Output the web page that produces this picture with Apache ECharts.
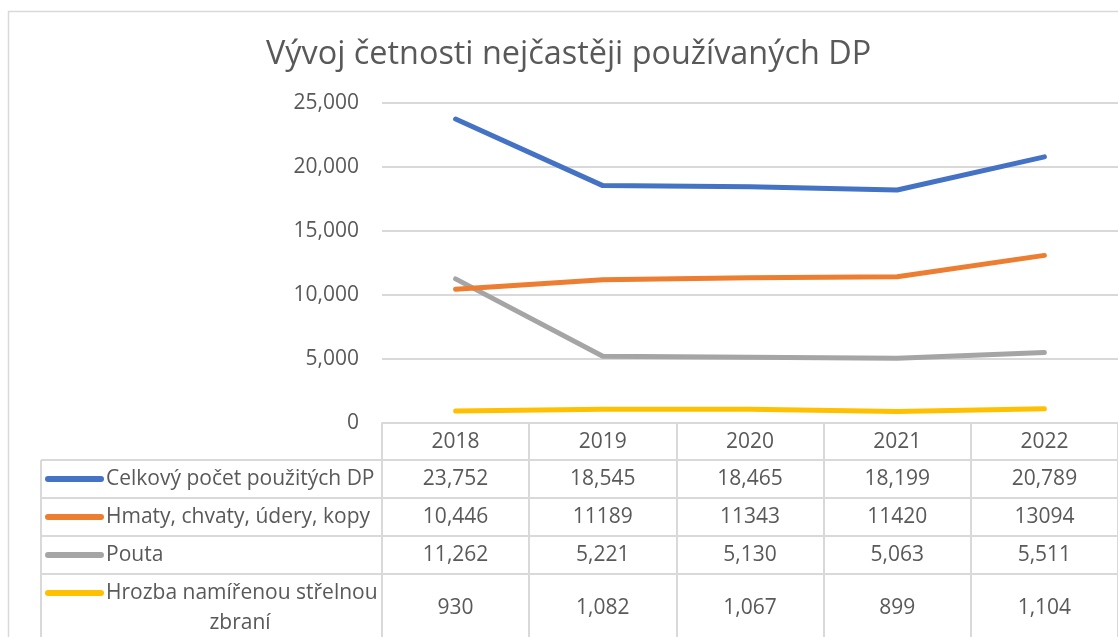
<!DOCTYPE html>
<html><head><meta charset="utf-8">
<script src="https://cdn.jsdelivr.net/npm/echarts@6/dist/echarts.min.js"></script>
<style>html,body{margin:0;padding:0;background:#fff}#c{width:1118px;height:637px}</style>
</head><body><div id="c"></div>
<script>
const titleText = 'Vývoj četnosti nejčastěji používaných DP';
const categories = ['2018', '2019', '2020', '2021', '2022'];
const seriesNames = ['Celkový počet použitých DP', 'Hmaty, chvaty, údery, kopy', 'Pouta', 'Hrozba namířenou střelnou zbraní'];
const celkovy = [23752, 18545, 18465, 18199, 20789];
const hmaty = [10446, 11189, 11343, 11420, 13094];
const pouta = [11262, 5221, 5130, 5063, 5511];
const hrozba = [930, 1082, 1067, 899, 1104];
// text as shown in the data table
const celkovyLabels = ['23,752', '18,545', '18,465', '18,199', '20,789'];
const hmatyLabels = ['10,446', '11189', '11343', '11420', '13094'];
const poutaLabels = ['11,262', '5,221', '5,130', '5,063', '5,511'];
const hrozbaLabels = ['930', '1,082', '1,067', '899', '1,104'];
const yTicks = [0, 5000, 10000, 15000, 20000, 25000];

const colors = ['#4472C4', '#ED7D31', '#A5A5A5', '#FFC000'];
const FONT = 'Open Sans';
const TXT = '#595959';
const GRID = '#D9D9D9';

const chart = echarts.init(document.getElementById('c'), null, {renderer: 'canvas'});
const values = [celkovy, hmaty, pouta, hrozba];
const option = {
  animation: false,
  backgroundColor: '#fff',
  textStyle: {fontFamily: FONT},
  title: {
    text: titleText, left: 266, top: 39, padding: 0,
    textStyle: {fontFamily: FONT, fontSize: 32.4, fontWeight: 'normal', color: TXT}
  },
  grid: {left: 382, right: -14, top: 103, bottom: 214, containLabel: false},
  xAxis: {
    type: 'category', data: categories, boundaryGap: true,
    axisLine: {show: true, lineStyle: {color: GRID, width: 2}},
    axisTick: {show: true, length: 240, lineStyle: {color: GRID, width: 2}},
    axisLabel: {fontFamily: FONT, fontSize: 21, color: TXT, margin: 9}
  },
  yAxis: {
    type: 'value', min: yTicks[0], max: yTicks[yTicks.length - 1], interval: yTicks[1] - yTicks[0],
    axisLine: {show: false}, axisTick: {show: false},
    splitLine: {lineStyle: {color: GRID, width: 2}},
    axisLabel: {
      fontFamily: FONT, fontSize: 21, color: TXT, margin: 23,
      formatter: v => v.toLocaleString('en-US')
    }
  },
  series: seriesNames.map((n, i) => ({
    name: n, type: 'line', data: values[i], showSymbol: false, symbol: 'none',
    lineStyle: {color: colors[i], width: 5, cap: 'round', join: 'round'},
    itemStyle: {color: colors[i]}, z: 10 - i
  }))
};
chart.setOption(option);

// data table below the plot
const centers = categories.map((c, i) => chart.convertToPixel({xAxisIndex: 0}, i));
const rowLines = [460, 498, 536, 574];
const rowCenters = [479, 517, 555, 608];
const tableLeft = 41;
const g = [];
// outer chart border
g.push({type: 'rect', shape: {x: 8.5, y: 11.5, width: 1200, height: 700}, style: {fill: 'none', stroke: GRID, lineWidth: 1.5}, silent: true});
rowLines.forEach(y => g.push({type: 'line', shape: {x1: tableLeft, y1: y, x2: 1118, y2: y}, style: {stroke: GRID, lineWidth: 2}}));
g.push({type: 'line', shape: {x1: tableLeft, y1: rowLines[0], x2: tableLeft, y2: 660}, style: {stroke: GRID, lineWidth: 2}});
const labelSets = [celkovyLabels, hmatyLabels, poutaLabels, hrozbaLabels];
labelSets.forEach((labels, r) => {
  labels.forEach((t, i) => g.push({type: 'text', x: centers[i], y: rowCenters[r],
    style: {text: t, fontFamily: FONT, fontSize: 21, fill: TXT, align: 'center', verticalAlign: 'middle'}}));
});
// legend keys + row names
const keyY = [479, 517, 555, 593];
seriesNames.forEach((n, r) => {
  g.push({type: 'line', shape: {x1: 48, y1: keyY[r], x2: 101, y2: keyY[r]}, style: {stroke: colors[r], lineWidth: 6, lineCap: 'round'}});
  if (r < 3) {
    g.push({type: 'text', x: 106, y: keyY[r], style: {text: n, fontFamily: FONT, fontSize: 21, fill: TXT, align: 'left', verticalAlign: 'middle'}});
  }
});
const lastName = seriesNames[3];
const splitAt = lastName.lastIndexOf(' ');
g.push({type: 'text', x: 106, y: 593, style: {text: lastName.slice(0, splitAt), fontFamily: FONT, fontSize: 21, fill: TXT, align: 'left', verticalAlign: 'middle'}});
g.push({type: 'text', x: 240, y: 623, style: {text: lastName.slice(splitAt + 1), fontFamily: FONT, fontSize: 21, fill: TXT, align: 'center', verticalAlign: 'middle'}});
chart.setOption({graphic: g});
</script></body></html>
